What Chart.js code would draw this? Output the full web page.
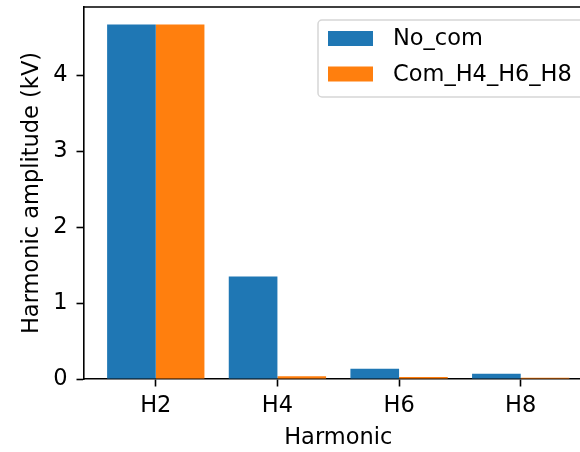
<!DOCTYPE html>
<html>
<head>
<meta charset="utf-8">
<script src="https://cdn.jsdelivr.net/npm/chart.js@4.4.1/dist/chart.umd.min.js"></script>
<style>
  html, body { margin: 0; padding: 0; overflow: hidden; background: #fff; }
  #wrap { width: 600px; height: 452px; }
</style>
</head>
<body>
<div id="wrap"><canvas id="grafico" width="600" height="452"></canvas></div>
<script>
// dados
const harmonicos = ['H2', 'H4', 'H6', 'H8'];
const noCom = [4.67, 1.35, 0.135, 0.068];
const comH4H6H8 = [4.67, 0.035, 0.027, 0.018];
const yTicks = [0, 1, 2, 3, 4];

const FONTE = 'DejaVu Sans';
const TAM = 22.5;
const AZUL = '#1f77b4';
const LARANJA = '#ff7f0e';

// legenda no estilo matplotlib
const legendaPlugin = {
  id: 'legendaMpl',
  afterDraw(chart) {
    const ctx = chart.ctx;
    const x0 = 318, y0 = 20, w = 268, h = 77, r = 4;
    ctx.save();
    ctx.beginPath();
    ctx.roundRect(x0, y0, w, h, r);
    ctx.fillStyle = 'rgba(255,255,255,0.8)';
    ctx.fill();
    ctx.lineWidth = 1.5;
    ctx.strokeStyle = '#d6d6d6';
    ctx.stroke();

    ctx.font = TAM + 'px "' + FONTE + '"';
    ctx.textBaseline = 'middle';
    chart.data.datasets.forEach((ds, i) => {
      const cy = y0 + 18.5 + i * 35.5;
      ctx.fillStyle = ds.backgroundColor;
      ctx.fillRect(x0 + 10, cy - 7.5, 45, 15);
      ctx.fillStyle = '#000';
      ctx.fillText(ds.label, x0 + 75, cy + 1);
    });
    ctx.restore();
  }
};

// borda de cima e direita (caixa do matplotlib)
const bordaCaixa = {
  id: 'bordaCaixa',
  afterDatasetsDraw(chart) {
    const a = chart.chartArea;
    const c = chart.ctx;
    c.save();
    c.strokeStyle = '#000';
    c.lineWidth = 1.6;
    c.beginPath();
    c.moveTo(a.left, a.top);
    c.lineTo(a.right, a.top);
    c.lineTo(a.right, a.bottom);
    c.stroke();
    c.restore();
  }
};

const ctx = document.getElementById('grafico').getContext('2d');

const grafico = new Chart(ctx, {
  type: 'bar',
  data: {
    datasets: [
      {
        label: 'No_com',
        data: noCom.map((v, i) => ({ x: i, y: v })),
        backgroundColor: AZUL
      },
      {
        label: 'Com_H4_H6_H8',
        data: comH4H6H8.map((v, i) => ({ x: i, y: v })),
        backgroundColor: LARANJA
      }
    ]
  },
  options: {
    responsive: false,
    devicePixelRatio: 1,
    animation: false,
    layout: { padding: { left: 0, top: 7, right: 7.5, bottom: 0 } },
    datasets: { bar: { categoryPercentage: 0.8, barPercentage: 1.0, borderWidth: 0 } },
    plugins: {
      legend: { display: false },
      tooltip: { enabled: false }
    },
    scales: {
      x: {
        type: 'linear',
        min: -0.59,
        max: 3.59,
        offset: false,
        afterBuildTicks: (scale) => {
          scale.ticks = harmonicos.map((h, i) => ({ value: i }));
        },
        afterFit: (scale) => {
          scale.height = 73;
          scale.paddingLeft = 0;
          scale.paddingRight = 0;
        },
        ticks: {
          callback: (v) => harmonicos[v],
          font: { family: FONTE, size: TAM },
          color: '#000',
          padding: 6,
          maxRotation: 0,
          autoSkip: false
        },
        grid: {
          drawOnChartArea: false,
          drawTicks: true,
          tickLength: 7.5,
          tickWidth: 1.6,
          tickColor: '#000',
          offset: false
        },
        border: { display: true, color: '#000', width: 1.6 },
        title: {
          display: true,
          text: 'Harmonic',
          font: { family: FONTE, size: TAM },
          color: '#000',
          padding: { top: 1, bottom: 0 }
        }
      },
      y: {
        min: 0,
        max: 4.9,
        afterBuildTicks: (scale) => {
          scale.ticks = yTicks.map(v => ({ value: v }));
        },
        afterFit: (scale) => {
          scale.width = 84;
          scale.paddingTop = 0;
          scale.paddingBottom = 0;
        },
        ticks: {
          font: { family: FONTE, size: TAM },
          color: '#000',
          padding: 9
        },
        grid: {
          drawOnChartArea: false,
          drawTicks: true,
          tickLength: 7.5,
          tickWidth: 1.6,
          tickColor: '#000'
        },
        border: { display: true, color: '#000', width: 1.6 },
        title: {
          display: true,
          text: 'Harmonic amplitude (kV)',
          font: { family: FONTE, size: TAM },
          color: '#000',
          padding: { top: 19, bottom: 0 }
        }
      }
    }
  },
  plugins: [bordaCaixa, legendaPlugin]
});
</script>
</body>
</html>
